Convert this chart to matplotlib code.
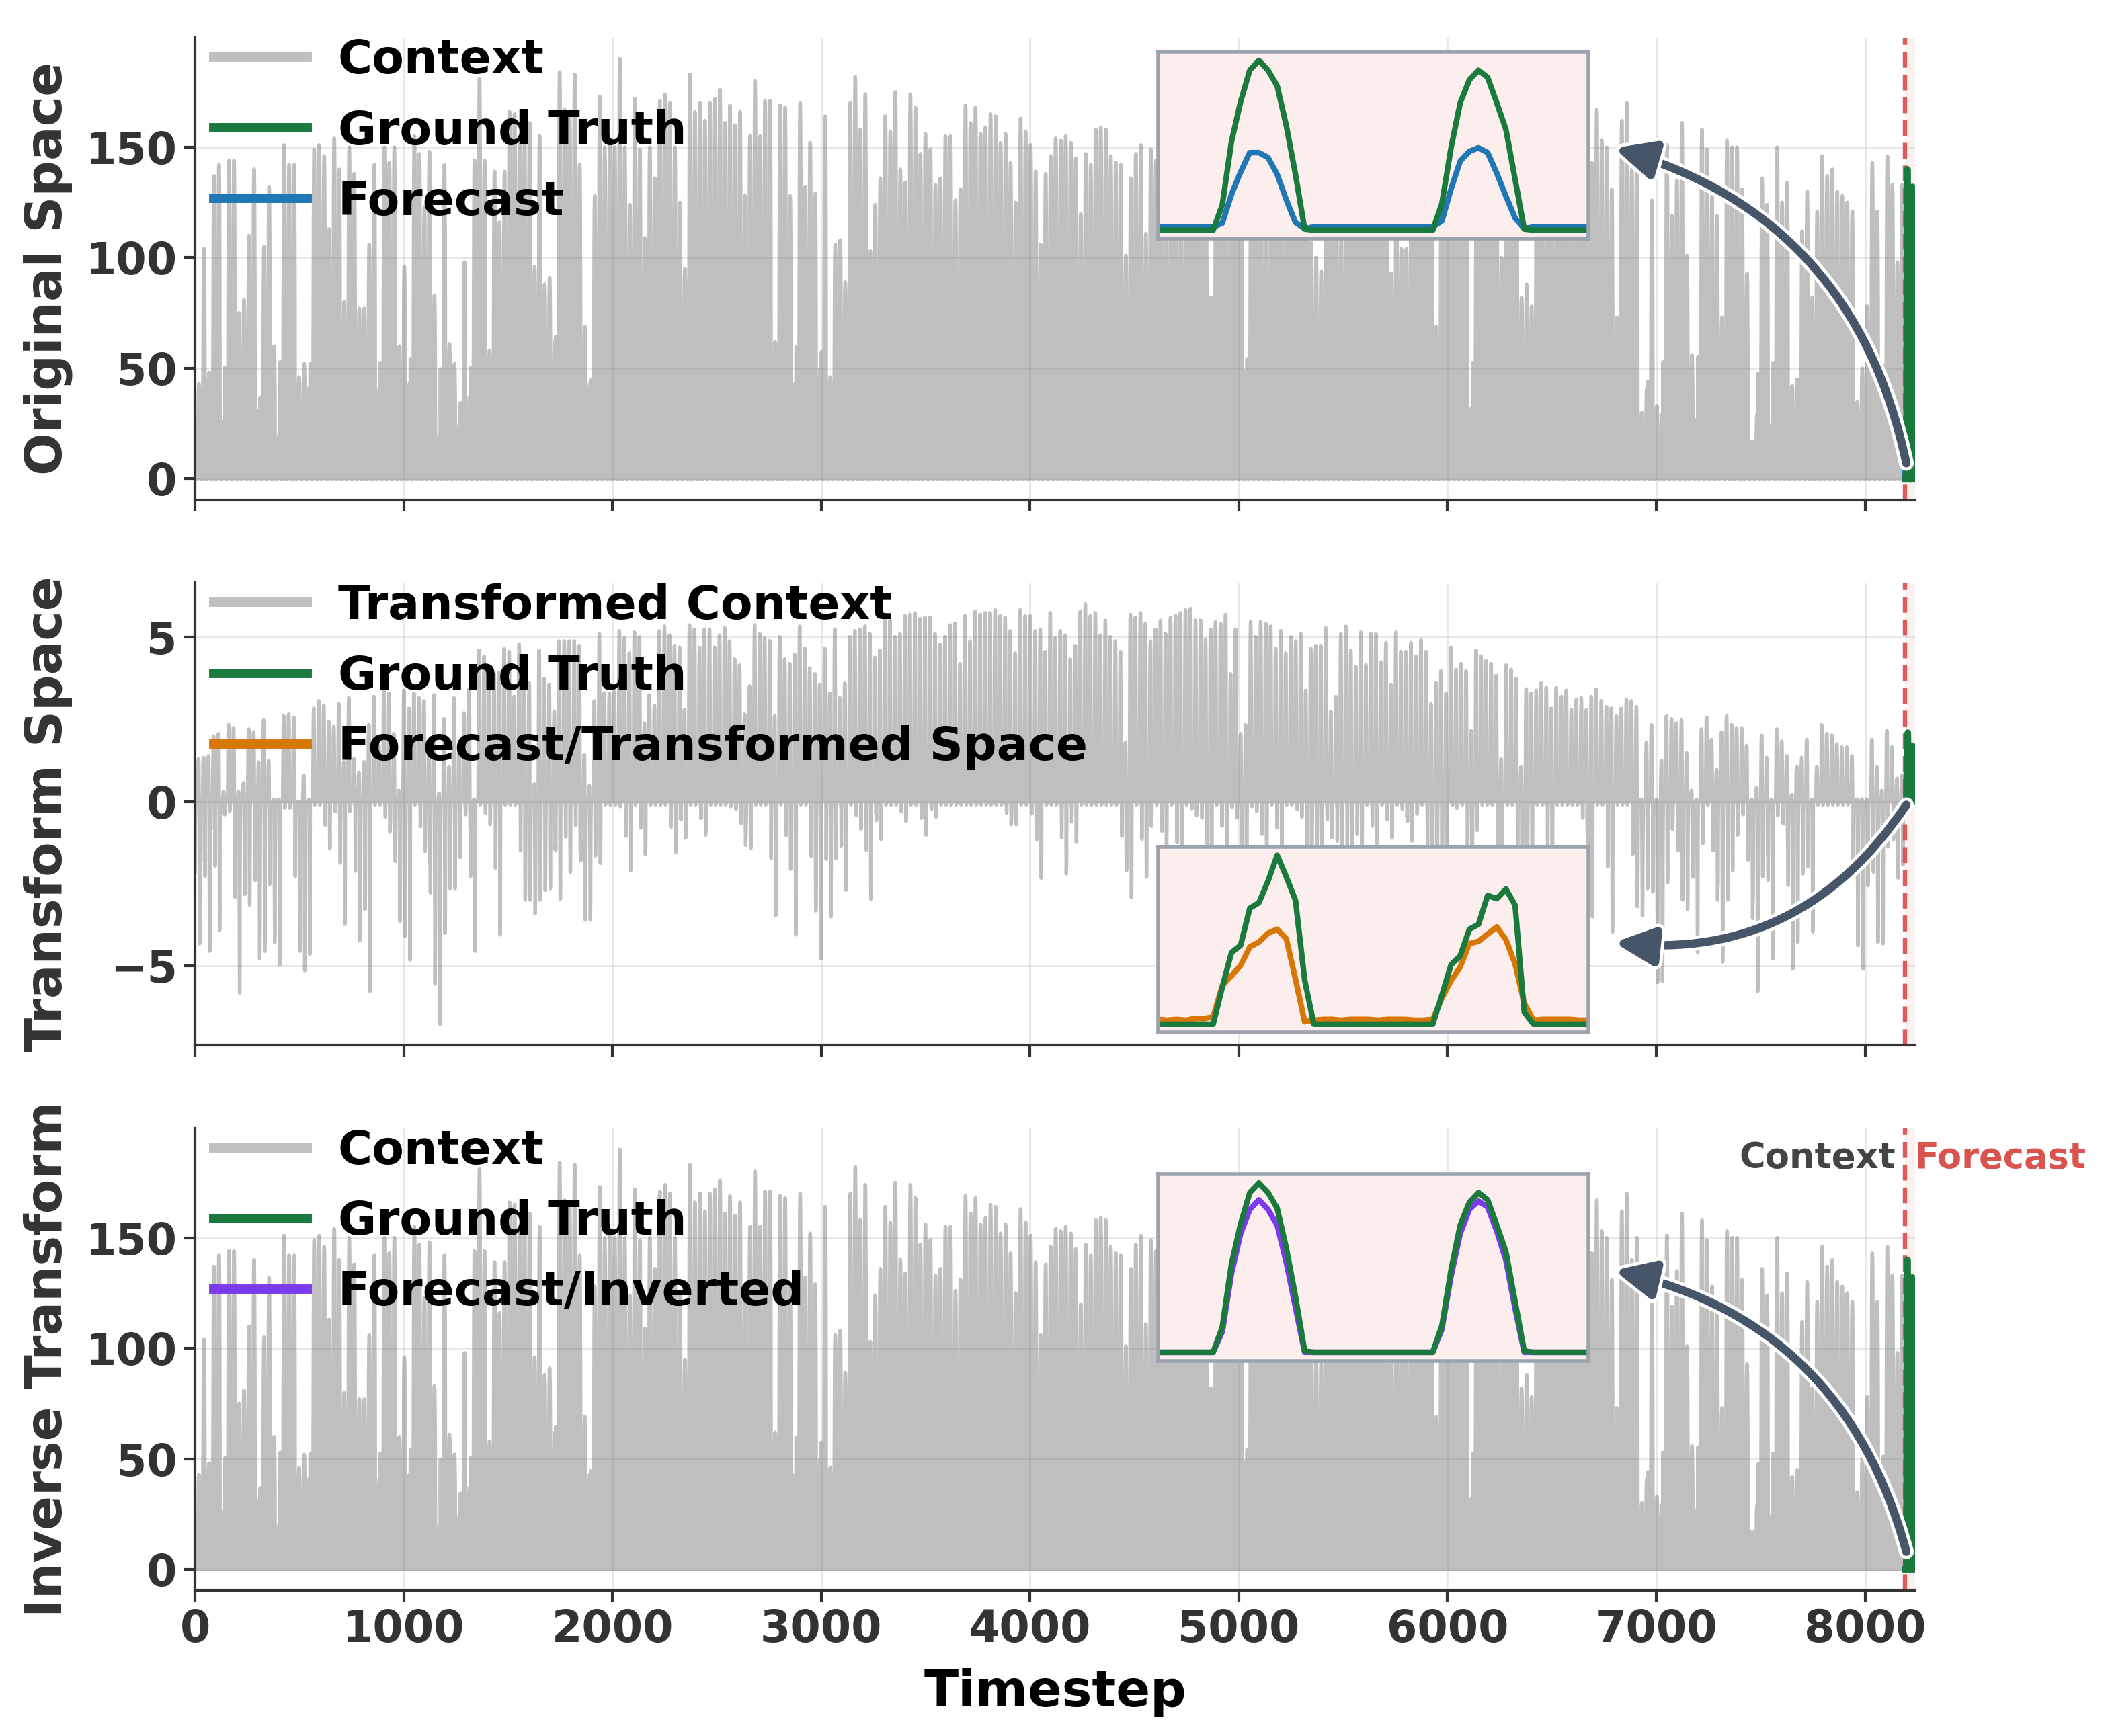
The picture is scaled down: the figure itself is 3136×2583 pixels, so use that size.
import numpy as np
import matplotlib
matplotlib.use("Agg")
import matplotlib.pyplot as plt
import matplotlib.patheffects as pe
from matplotlib.transforms import blended_transform_factory

plt.rcParams['font.family'] = ['DejaVu Sans']
plt.rcParams['font.weight'] = 'bold'
plt.rcParams['axes.labelweight'] = 'bold'

CONTEXT_LEN = 8192
HORIZON = 48

# ---------------- daily peak values of the context (original space) ----------------
orig_peaks_a = [43, 104, 48, 137, 142, 26, 144, 144, 75, 81,
                110, 140, 31, 105, 132, 60, 20, 151, 142, 142,
                46, 52, 41, 149, 151, 146, 113, 154, 140, 80,
                150, 138, 77, 77, 106, 142, 41, 150, 143, 150,
                60, 96, 43, 155, 147, 123, 148, 83, 20, 142,
                61, 52, 25, 98, 37, 144, 181, 144, 58, 139,
                116, 139, 166, 165, 155, 153, 161, 96, 155, 88,
                91, 62, 184, 167, 165, 183, 142, 69, 43, 128,
                173, 150, 153, 150, 190, 150, 124, 172, 149, 109,
                150, 136, 171, 174, 170, 150, 125, 95, 183, 166,
                170, 162, 170, 172, 176, 161, 169, 160, 166, 128,
                155, 180, 155, 171, 171]
orig_peaks_b = [62, 169, 168, 128, 43, 170, 132, 152, 129, 50,
                164, 46, 106, 108, 89, 170, 182, 158, 174, 103,
                124, 136, 164, 157, 175, 140, 134, 174, 168, 147,
                156, 149, 133, 136, 155, 155, 126, 131, 169, 161,
                168, 156, 159, 165, 164, 152, 156, 143, 125, 163,
                157, 151, 139, 106, 138, 146, 154, 153, 155, 152,
                145, 120, 147, 142, 158, 159, 158, 146, 143, 142,
                101, 136, 147, 151, 111, 149, 144]
orig_peaks_c = [150, 125, 140, 170, 115, 160, 145, 168, 150, 140,
                82, 150, 170, 130, 145, 165, 160, 49, 155, 170,
                150, 115, 148, 170, 125, 160, 140, 165, 150, 158,
                107, 100, 94, 160, 130, 165, 110, 160, 150, 140,
                165, 150, 160, 155, 145, 160, 93, 150, 104, 104,
                150, 160, 140, 155, 150, 69, 150, 160, 145, 155,
                140, 150, 32, 150, 140, 155, 145, 150, 100, 145,
                140, 130, 82, 88, 78, 140, 150, 135, 145, 130,
                140, 150, 135, 145, 150, 140]
orig_peaks_d = [143, 167, 153, 150, 131, 73, 162, 170, 140, 150,
                30, 41, 126, 33, 29, 151, 119, 135, 161, 101,
                56, 27, 158, 149, 128, 119, 73, 153, 150, 150,
                131, 93, 17, 29, 136, 124, 25, 150, 125, 134,
                42, 45, 112, 130, 82, 121, 146, 137, 140, 130,
                128, 125, 121, 35, 50, 78, 143, 121, 40, 146,
                133, 98, 133]

# ---------------- daily extremes of the transformed context ----------------
trans_pos_a = [1.3, 1.34, 1.39, 2.0, 2.07, 0.3, 2.34, 2.25, 0.3, 0.57,
               2.21, 2.12, 1.2, 2.48, 1.25, 0.07, 0.07, 2.61, 2.66, 2.57,
               0.0, 0.8, 0.07, 2.84, 3.07, 2.93, 2.43, 2.3, 2.98, 1.21,
               3.16, 1.3, 0.89, 1.21, 2.34, 3.2, 1.71, 3.52, 3.3, 2.07,
               0.34, 3.39, 2.84, 3.3, 3.16, 3.07, 1.57, 3.25, 0.25, 2.52,
               1.07, 3.16, 1.71, 2.7, 3.43, 0.07, 4.61, 4.43, 3.48, 3.89,
               3.93, 4.66, 4.57, 3.2, 4.8, 4.16, 3.61, 0.53, 4.61, 3.75,
               3.57, 2.75, 4.89, 4.89, 4.89, 4.89, 4.75, 1.43, 0.48, 3.07,
               5.11, 3.3, 3.3, 3.34, 5.2, 4.98, 4.52, 5.16, 5.02, 2.39,
               3.25, 2.93, 5.2, 5.34, 5.07, 4.75, 4.7, 2.8, 5.38, 5.25,
               4.7, 5.25, 5.25, 4.7, 5.07, 5.29, 4.89, 4.34, 4.16, 2.66,
               3.52, 5.38, 5.11, 4.98, 4.9]
trans_pos_b = [2.61, 5.02, 4.34, 4.2, 4.48, 5.34, 4.66, 4.07, 3.89, 3.57,
               4.66, 3.3, 5.25, 3.16, 3.61, 5.02, 5.2, 5.25, 5.34, 5.11,
               4.39, 4.61, 5.57, 5.52, 5.02, 5.11, 5.66, 5.7, 5.75, 5.57,
               5.61, 5.61, 5.11, 4.79, 5.02, 5.38, 5.43, 4.2, 5.66, 4.89,
               5.79, 5.7, 5.75, 5.75, 5.84, 5.66, 5.61, 5.2, 4.52, 5.84,
               5.66, 5.66, 5.2, 5.25, 4.57, 5.75, 4.98, 5.2, 5.07, 4.34,
               4.75, 5.79, 6.02, 5.66, 5.75, 5.07, 5.52, 5.02, 4.89, 4.57,
               1.8, 5.7, 5.61, 5.75, 5.43, 4.89, 5.25, 5.52, 5.11, 5.61,
               5.66, 5.75, 5.84, 5.88, 5.52, 5.52, 4.93, 5.25, 5.48, 5.43,
               5.7, 3.89, 5.25, 2.07, 2.34, 5.48, 5.02, 5.48, 5.43, 5.34,
               4.66, 5.2, 4.52, 5.02, 4.89, 5.11, 3.39, 4.66, 4.75, 4.75,
               5.29, 2.75, 3.2, 5.11]
trans_pos_c = [5.34, 4.61, 4.11, 5.16, 4.16, 5.11, 5.11, 4.25, 4.84, 3.57,
               5.16, 4.57, 4.57, 4.84, 4.43, 4.93, 4.57, 2.98, 3.61, 3.98,
               3.3, 4.7, 4.02, 4.2, 3.98, 2.16, 4.61, 4.43, 4.3, 4.2,
               3.84, 1.3, 4.16, 4.02, 3.75, 1.07, 3.43, 3.3, 3.39, 3.61,
               3.48, 2.84, 3.48, 3.2, 3.39, 2.8, 3.11, 3.16, 2.8, 3.2,
               3.43, 3.07, 2.89, 2.84, 2.61, 2.84, 3.11, 3.07, 2.89, 0.07,
               1.8, 2.34, 0.07, 1.25, 2.61, 2.52, 2.39, 2.48, 1.48, 0.34,
               0.07, 2.21, 2.57, 1.89, 0.98, 2.12, 2.61, 2.34, 2.25, 2.25,
               1.71, 0.07, 0.43, 2.02, 1.34, 0.07, 2.21, 1.84, 1.39, 0.21,
               1.07, 1.34, 1.89, 0.07, 1.07, 2.34, 2.07, 2.02, 1.75, 1.66,
               1.66, 1.39, 0.07, 0.07, 0.07, 1.89, 1.07, 0.34, 2.16, 1.66,
               0.71, 0.8]

trans_neg_a = [-4.33, -1.83, -4.56, -0.84, -3.92, -0.4, -0.3, -0.5, -5.83, -2.83,
               -3.15, -0.6, -4.79, -4.56, -2.52, -4.29, -4.97, -0.2, -0.2, -0.3,
               -4.56, -5.15, -4.65, -0.1, -0.1, -0.1, -1.43, -0.1, -0.6, -3.74,
               -0.3, -0.1, -4.24, -3.29, -5.78, -0.1, -0.1, -0.1, -0.93, -1.24,
               -3.65, -4.1, -4.83, -0.1, -0.1, -1.52, -1.83, -5.56, -6.78, -4.01,
               -2.65, -2.65, -1.7, -0.1, -0.79, -4.56, -0.1, -0.1, -0.7, -0.1,
               -4.06, -0.1, -0.1, -0.1, -0.1, -3.0, -3.0, -3.42, -3.0, -2.7,
               -2.65, -1.47, -2.97, -0.1, -2.15, -0.1, -1.47, -3.61, -3.61, -1.65,
               -1.88, -0.1, -0.1, -0.1, -0.15, -0.1, -2.11, -0.1, -0.1, -1.61,
               -0.1, -0.1, -0.1, -0.1, -0.1, -1.56, -0.52, -1.11, -0.1, -0.1,
               -0.1, -1.02, -0.1, -0.1, -0.1, -0.1, -0.15, -0.1, -0.47, -1.33,
               -1.43, -0.1, -0.1, -0.1, -0.1]
trans_neg_b = [-3.47, -0.1, -0.1, -2.06, -4.06, -0.1, -0.1, -0.1, -3.33, -4.79,
               -0.1, -3.51, -1.74, -0.1, -2.7, -0.1, -0.1, -0.84, -0.1, -2.97,
               -0.34, -1.15, -0.1, -0.1, -0.1, -0.1, -0.61, -0.1, -0.1, -0.1,
               -1.02, -0.1, -0.47, -0.1, -0.1, -0.1, -0.1, -0.1, -0.1, -0.1,
               -0.1, -0.1, -0.1, -0.1, -0.1, -0.1, -0.1, -0.7, -0.7, -0.1,
               -0.1, -0.1, -0.75, -2.33, -0.1, -0.1, -0.1, -0.1, -2.2, -0.1,
               -1.24, -0.1, -0.1, -0.1, -0.1, -0.1, -0.1, -0.1, -0.1, -0.1,
               -2.11, -2.92, -0.1, -0.1, -2.3, -0.75, -0.1, -0.1, -1.8, -0.1,
               -0.1, -2.5, -0.1, -0.1, -0.43, -0.1, -1.0, -3.0, -0.1, -0.1,
               -1.5, -0.1, -0.35, -1.0, -3.5, -0.1, -0.3, -0.1, -2.0, -0.1,
               -0.1, -1.6, -0.1, -0.1, -0.1, -0.47, -0.1, -2.8, -1.5, -2.2,
               -0.1, -1.1, -0.1, -2.4]
trans_neg_c = [-0.1, -3.0, -0.1, -2.0, -0.1, -0.1, -1.5, -0.1, -0.1, -1.11,
               -0.1, -0.1, -0.47, -1.2, -0.38, -0.1, -0.1, -3.2, -4.0, -2.5,
               -3.0, -0.1, -0.2, -0.1, -0.1, -5.0, -0.88, -0.1, -0.1, -0.1,
               -0.1, -3.5, -0.1, -0.1, -0.1, -4.0, -3.0, -2.5, -0.1, -0.1,
               -0.1, -2.8, -0.1, -0.1, -0.1, -0.1, -0.1, -0.1, -1.0,
               -3.51, -0.1, -0.1, -0.1, -3.97, -0.1, -0.1, -0.1, -0.1, -3.2,
               -3.47, -2.65, -0.1, -5.51, -5.47, -2.47, -0.84, -0.38, -3.0, -3.29,
               -1.83, -4.6, -1.29, -0.1, -0.2, -3.0, -4.88, -3.0, -2.11, -1.02,
               -0.1, -0.79, -3.56, -5.78, -2.29, -1.61, -4.79, -0.43, -0.1, -1.34,
               -5.1, -4.29, -2.2, -1.97, -3.97, -0.1, -0.1, -0.1, -0.1, -0.1,
               -0.1, -0.1, -0.1, -4.38, -5.1, -2.56, -1.97, -4.29, -4.33, -1.38,
               -0.1, -2.33, -1.93]

# hour-of-day profiles (fraction of the daily extreme)
day_shape = [0.35, 0.1, 0, 0, 0, 0, 0, 0, 0, 0, 0, 0, 0, 0.1,
             0.35, 0.62, 0.82, 0.94, 0.99, 1.0, 0.99, 0.94, 0.82, 0.62]
pos_shape = [0, 0, 0, 0, 0, 0, 0, 0, 0, 0, 0, 0, 0, 0.2,
             0.55, 0.85, 0.97, 1.0, 0.95, 0.75, 0.4, 0.1, 0, 0]
neg_shape = [0.5, 0.15, 0, 0, 0, 0, 0, 0, 0, 0, 0, 0, 0, 0, 0, 0, 0, 0, 0,
             0.1, 0.4, 0.8, 1.0, 0.85]

# ---------------- forecast window (48 steps) ----------------
gt_orig = [0, 0, 0, 0, 0, 0, 0, 21, 73, 106, 132, 140, 132, 119, 86, 46, 1,
           0, 0, 0, 0, 0, 0, 0, 0, 0, 0, 0, 0, 0, 0,
           22, 68, 105, 124, 132, 126, 105, 83, 42, 1,
           0, 0, 0, 0, 0, 0, 0]
fc_orig = [2.6, 2.6, 2.6, 2.6, 2.6, 2.6, 2.5, 5.8, 29.5, 48, 64, 64, 60, 46, 25, 6.3, 1.3,
           2.6, 2.6, 2.6, 2.6, 2.6, 2.6, 2.6, 2.6, 2.6, 2.6, 2.6, 2.6, 2.6, 2.5,
           7.6, 34, 57, 65, 68, 64, 47, 28, 10, 1.3,
           2.6, 2.6, 2.6, 2.6, 2.6, 2.6, 2.6]
gt_trans = [0, 0, 0, 0, 0, 0, 0, 0.46, 0.89, 0.98, 1.44, 1.51, 1.78, 2.10, 1.83, 1.54, 0.55,
            0, 0, 0, 0, 0, 0, 0, 0, 0, 0, 0, 0, 0, 0,
            0.36, 0.74, 0.85, 1.18, 1.24, 1.60, 1.56, 1.68, 1.48, 0.15,
            0, 0, 0, 0, 0, 0, 0]
fc_trans = [0.06, 0.05, 0.06, 0.05, 0.07, 0.07, 0.09, 0.48, 0.60, 0.73, 0.96, 1.02, 1.13, 1.18, 1.06, 0.56, 0.03,
            0.05, 0.06, 0.06, 0.05, 0.06, 0.06, 0.06, 0.05, 0.06, 0.06, 0.06, 0.05, 0.05, 0.06,
            0.32, 0.54, 0.71, 1.0, 1.03, 1.12, 1.21, 1.05, 0.75, 0.26,
            0.05, 0.06, 0.06, 0.06, 0.06, 0.05, 0.05]
fc_inv = [0, 0, 0, 0, 0, 0, 0, 17, 65, 98, 118, 126, 118, 105, 74, 37, 0,
          0, 0, 0, 0, 0, 0, 0, 0, 0, 0, 0, 0, 0, 0,
          19, 63, 98, 118, 125, 120, 100, 76, 36, 0,
          0, 0, 0, 0, 0, 0, 0]

x_ticks = [0, 1000, 2000, 3000, 4000, 5000, 6000, 7000, 8000]
orig_yticks = [0, 50, 100, 150]
trans_yticks = [-5, 0, 5]

# ---------------- build series ----------------
orig_peaks = np.array(orig_peaks_a + orig_peaks_b + orig_peaks_c + orig_peaks_d + [0.0])
tpos = np.array(trans_pos_a + trans_pos_b + trans_pos_c + [0.0])
tneg = np.array(trans_neg_a + trans_neg_b + trans_neg_c + [0.0])
context = np.outer(orig_peaks, day_shape).ravel()[:CONTEXT_LEN]
trans_context = (np.outer(tpos, pos_shape) + np.outer(tneg, neg_shape)).ravel()[:CONTEXT_LEN]
inverse_context = context

t_ctx = np.arange(len(context))
t_fc = np.arange(CONTEXT_LEN, CONTEXT_LEN + HORIZON)

GREEN = '#1a7a3e'
BLUE = '#1f77b4'
ORANGE = '#d97706'
PURPLE = '#7c3aed'
RED = '#d9534f'
ARROW = '#475569'
INSET_BG = '#fdeeee'
INSET_EDGE = '#9ca3af'
DARK = '#333333'

fig, axes = plt.subplots(3, 1, figsize=(15.68, 12.915), dpi=200, sharex=True)
fig.subplots_adjust(left=0.0925, right=0.9085, top=0.9783, bottom=0.0839, hspace=0.18)

panels = [
    dict(ctx=context, fc=fc_orig, gt=gt_orig, fc_color=BLUE, ctx_label='Context',
         fc_label='Forecast', ylabel='Original Space', inset=[0.56, 0.565, 0.25, 0.404],
         rad=0.3, tail_dy=7, yticks=orig_yticks),
    dict(ctx=trans_context, fc=fc_trans, gt=gt_trans, fc_color=ORANGE,
         ctx_label='Transformed Context', fc_label='Forecast/Transformed Space',
         ylabel='Transform Space', inset=[0.56, 0.027, 0.25, 0.402],
         rad=-0.3, tail_dy=-0.1, yticks=trans_yticks),
    dict(ctx=inverse_context, fc=fc_inv, gt=gt_orig, fc_color=PURPLE, ctx_label='Context',
         fc_label='Forecast/Inverted', ylabel='Inverse Transform', inset=[0.56, 0.497, 0.25, 0.403],
         rad=0.3, tail_dy=8, yticks=orig_yticks),
]

for ax, p in zip(axes, panels):
    ax.grid(True, color='#b0b0b0', alpha=0.3, lw=1.0)
    ax.set_axisbelow(True)
    ax.axvspan(CONTEXT_LEN, CONTEXT_LEN + HORIZON, color=RED, alpha=0.08, lw=0, zorder=0)
    l_ctx, = ax.plot(t_ctx, p['ctx'], color='gray', alpha=0.5, lw=1.9, zorder=2)
    ax.axvline(CONTEXT_LEN, color=RED, ls='--', lw=2.3, alpha=0.95, zorder=2.5)
    l_fc, = ax.plot(t_fc, p['fc'], color=p['fc_color'], lw=3, zorder=3)
    l_gt, = ax.plot(t_fc, p['gt'], color=GREEN, lw=3.5, zorder=4)
    ax.set_xlim(0, CONTEXT_LEN + HORIZON)
    ax.set_xticks(x_ticks)
    ax.set_yticks(p['yticks'])
    ax.tick_params(labelsize=23.5, length=6, width=1.5, colors=DARK)
    for s in ['top', 'right']:
        ax.spines[s].set_visible(False)
    for s in ['left', 'bottom']:
        ax.spines[s].set_color(DARK)
        ax.spines[s].set_linewidth(1.5)
    ax.set_ylabel(p['ylabel'], fontsize=27, fontweight='bold', color=DARK, labelpad=7)

    leg = ax.legend([l_ctx, l_gt, l_fc], [p['ctx_label'], 'Ground Truth', p['fc_label']],
                    loc='upper left', bbox_to_anchor=(0.0, 1.04), borderaxespad=0,
                    frameon=False, prop=dict(size=25, weight='bold'),
                    handlelength=2, handletextpad=0.66, labelspacing=0.55)
    for h in leg.get_lines():
        h.set_linewidth(5)

    ins = ax.inset_axes(p['inset'])
    ins.set_facecolor(INSET_BG)
    ins.plot(t_fc, p['fc'], color=p['fc_color'], lw=3)
    ins.plot(t_fc, p['gt'], color=GREEN, lw=3)
    ins.set_xlim(t_fc[0], t_fc[-1])
    ins.set_xticks([])
    ins.set_yticks([])
    for s in ins.spines.values():
        s.set_color(INSET_EDGE)
        s.set_linewidth(2)

    x0, y0, w, h = p['inset']
    head = (x0 + w + 0.015, y0 + h / 2 - 0.006)
    tail = (CONTEXT_LEN + 6, p['gt'][0] + p['tail_dy'])
    ann = ax.annotate('', xy=head, xycoords='axes fraction', xytext=tail, textcoords='data',
                      arrowprops=dict(arrowstyle='-|>,head_length=0.8,head_width=0.38',
                                      mutation_scale=22, lw=4.5, color=ARROW,
                                      connectionstyle=f"arc3,rad={p['rad']}",
                                      shrinkA=0, shrinkB=0, capstyle='round',
                                      joinstyle='round'),
                      zorder=20, annotation_clip=False)
    ann.arrow_patch.set_path_effects([pe.Stroke(linewidth=8, foreground='white'), pe.Normal()])

ax3 = axes[2]
ax3.set_xlabel('Timestep', fontsize=27, fontweight='bold', color='black', labelpad=9)
tr = blended_transform_factory(ax3.transData, ax3.transAxes)
ax3.annotate('Context', xy=(CONTEXT_LEN, 0.935), xycoords=tr, xytext=(-5, 0),
             textcoords='offset points', ha='right', va='center', fontsize=19,
             fontweight='bold', color='#444444', annotation_clip=False)
ax3.annotate('Forecast', xy=(CONTEXT_LEN, 0.935), xycoords=tr, xytext=(5, 0),
             textcoords='offset points', ha='left', va='center', fontsize=19,
             fontweight='bold', color=RED, annotation_clip=False)

fig.align_ylabels(axes)
fig.savefig('out.png', dpi=200)
